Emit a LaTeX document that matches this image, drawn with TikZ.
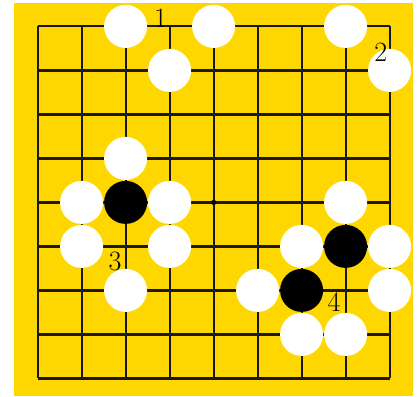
\documentclass[tikz,border=0pt]{standalone}
\begin{document}
\begin{tikzpicture}[x=1pt,y=-1pt,
  stone/.style={circle,minimum size=43pt,inner sep=0pt,draw=none},
  wstone/.style={stone,fill=white},
  bstone/.style={stone,fill=black},
  gridline/.style={line width=2.2pt,black!90},
  lbl/.style={inner sep=0pt,font=\fontsize{28}{28}\selectfont}]
\useasboundingbox (0,0) rectangle (417,396);
\definecolor{board}{RGB}{255,215,0}
\fill[board] (14,3) rectangle (412.7,396);
\foreach \i in {0,...,8}{
  \draw[gridline] (37.6+44*\i,26.4) -- (37.6+44*\i,378.4);
  \draw[gridline] (37.6,26.4+44*\i) -- (389.6,26.4+44*\i);
}
\fill (37.6+4*44,26.4+4*44) circle (2.6pt);
% white stones
\foreach \c/\r/\n in {2/0/a,4/0/b,7/0/c,3/1/d,8/1/e,2/3/f,1/4/g,3/4/h,1/5/i,3/5/j,2/6/k,7/4/l,6/5/m,8/5/n,5/6/o,8/6/p,6/7/q,7/7/r}
  \node[wstone] (w\n) at (37.6+44*\c,26.4+44*\r) {};
% black stones
\foreach \c/\r/\n in {2/4/a,7/5/b,6/6/c}
  \node[bstone] (b\n) at (37.6+44*\c,26.4+44*\r) {};
\node[lbl] (l1) at (160.5,18) {1};
\node[lbl] (l2) at (380.7,52.5) {2};
\node[lbl] (l3) at (115,261) {3};
\node[lbl] (l4) at (334,302) {4};
\end{tikzpicture}
\end{document}
